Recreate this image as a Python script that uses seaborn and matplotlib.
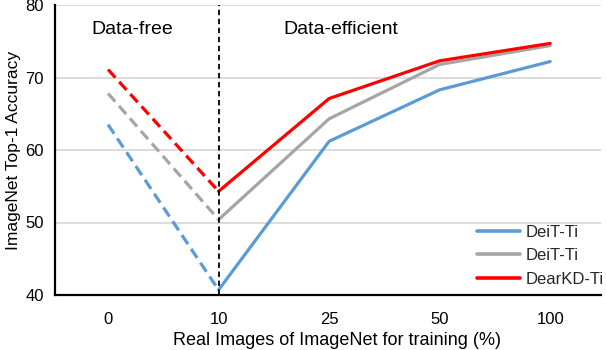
import matplotlib
matplotlib.use("Agg")
import matplotlib.pyplot as plt
import seaborn as sns
import pandas as pd
from matplotlib.lines import Line2D

categories = ["0", "10", "25", "50", "100"]
deit_blue = [63.5, 40.7, 61.2, 68.3, 72.2]
deit_gray = [67.8, 50.4, 64.3, 71.8, 74.4]
dearkd = [71.1, 54.3, 67.1, 72.3, 74.7]
labels = ["DeiT-Ti", "DeiT-Ti", "DearKD-Ti"]
colors = ["#5B9BD5", "#A5A5A5", "#FF0000"]

sns.set_theme(style="white")
plt.rcParams['font.family'] = ['Liberation Sans', 'DejaVu Sans']

fig = plt.figure(figsize=(6.06, 3.5), dpi=100)
ax = fig.add_axes([55/606, 55/350, 546/606, 290/350])

series = [deit_blue, deit_gray, dearkd]
idx = list(range(len(categories)))
handles = []
for vals, lab, col in zip(series, labels, colors):
    df = pd.DataFrame({"x": idx, "y": vals})
    sns.lineplot(data=df.iloc[:2], x="x", y="y", ax=ax, color=col, linewidth=2.3,
                 linestyle=(0, (3.4, 1.8)), legend=False)
    sns.lineplot(data=df.iloc[1:], x="x", y="y", ax=ax, color=col, linewidth=2.3,
                 legend=False)
    handles.append(Line2D([0], [0], color=col, linewidth=2.6))

ax.axvline(1, color="black", linewidth=1.3, linestyle=(0, (3, 2)), zorder=5)

ax.set_xlim(-0.48, 4.46)
ax.set_ylim(40, 80)
ax.set_xticks(idx)
ax.set_xticklabels(categories)
ax.set_yticks([40, 50, 60, 70, 80])
ax.yaxis.grid(True, color="#D9D9D9", linewidth=1.3)
ax.xaxis.grid(False)
ax.tick_params(axis="both", length=0, labelsize=12, colors="black")
ax.tick_params(axis="x", pad=12)
ax.tick_params(axis="y", pad=8)
for s in ["top", "right"]:
    ax.spines[s].set_visible(False)
for s in ["left", "bottom"]:
    ax.spines[s].set_color("black")
    ax.spines[s].set_linewidth(1.6)

ax.set_xlabel("Real Images of ImageNet for training (%)", fontsize=13, color="black")
ax.xaxis.set_label_coords(0.517, -0.128)
ax.set_ylabel("ImageNet Top-1 Accuracy", fontsize=12.5, color="black", labelpad=3)

ax.text(0.22, 76.6, "Data-free", fontsize=14, ha="center", va="center", color="black")
ax.text(1.59, 76.6, "Data-efficient", fontsize=14, ha="left", va="center", color="black")

leg = ax.legend(handles, labels, loc="lower left", frameon=False, fontsize=12,
                handlelength=2.6, handletextpad=0.3, labelspacing=0.5,
                bbox_to_anchor=(0.773, 0.029), borderaxespad=0, borderpad=0)

fig.savefig("out.png", dpi=100)
